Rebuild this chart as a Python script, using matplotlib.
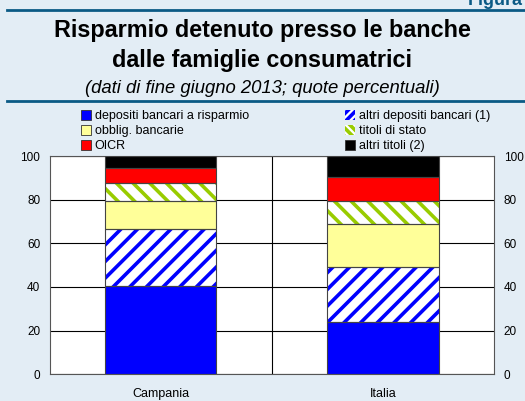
import numpy as np
import matplotlib.pyplot as plt
from matplotlib.patches import Patch

plt.rcParams['font.family'] = ['Liberation Sans', 'DejaVu Sans']
plt.rcParams['hatch.linewidth'] = 2.6

# regions on the x axis
regions = ['Campania', 'Italia']

# shares (%) of each kind of savings, bottom to top
depositi_risparmio = [40.6, 23.7]
altri_depositi = [25.8, 25.4]
obblig_bancarie = [12.9, 19.8]
titoli_stato = [8.4, 10.7]
oicr = [6.8, 11.0]
altri_titoli = [5.5, 9.4]

series = [depositi_risparmio, altri_depositi, obblig_bancarie,
          titoli_stato, oicr, altri_titoli]
labels = ['depositi bancari a risparmio', 'altri depositi bancari (1)',
          'obblig. bancarie', 'titoli di stato', 'OICR', 'altri titoli (2)']
# (fill, hatch colour, hatch)
styles = [('#0000FF', None, ''), ('white', '#0000FF', '//'),
          ('#FFFF99', None, ''), ('white', '#99CC00', '\\\\'),
          ('#FF0000', None, ''), ('black', None, '')]

bg = '#E3EDF5'
line_col = '#0B5A85'

fig = plt.figure(figsize=(5.25, 4.01), dpi=100)
fig.patch.set_facecolor(bg)

ax = fig.add_axes([0.095, 0.067, 0.846, 0.5436])
ax.set_facecolor('white')

x = np.arange(len(regions))
bottom = np.zeros(len(regions))
handles = []
for vals, lab, (fc, hc, hatch) in zip(series, labels, styles):
    vals = np.array(vals)
    if hatch:
        ax.bar(x, vals, 0.5, bottom=bottom, color='white', edgecolor=hc,
               hatch=hatch, linewidth=0, zorder=2)
        handles.append(Patch(facecolor='white', edgecolor=hc, hatch=hatch[0] * 4,
                             linewidth=0, label=lab))
    else:
        ax.bar(x, vals, 0.5, bottom=bottom, color=fc, linewidth=0, zorder=2)
        handles.append(Patch(facecolor=fc, edgecolor='#333333', linewidth=0.6, label=lab))
    ax.bar(x, vals, 0.5, bottom=bottom, fill=False, edgecolor='#444444',
           linewidth=0.8, zorder=3)
    bottom += vals

ax.set_xlim(-0.5, 1.5)
ax.set_ylim(0, 100)
ax.set_yticks([0, 20, 40, 60, 80, 100])
ax.set_xticks(x)
ax.set_xticklabels(regions)
ax.tick_params(axis='x', length=0, labelsize=9, pad=10)
ax.tick_params(axis='y', length=0, labelsize=8.5, labelright=True, right=False, pad=7)
ax.yaxis.grid(True, color='black', linewidth=0.8, zorder=0)
ax.set_axisbelow(True)
ax.axvline(0.5, color='black', linewidth=0.8, zorder=1)
for s in ax.spines.values():
    s.set_color('#555555')
    s.set_linewidth(0.8)

fig.legend(handles=handles[0::2] + handles[1::2],
           labels=labels[0::2] + labels[1::2],
           ncol=2, loc='upper left', bbox_to_anchor=(0.154, 0.725),
           frameon=False, fontsize=9, handlelength=0.8, handleheight=0.8,
           handletextpad=0.3, labelspacing=0.22, columnspacing=7.7,
           borderaxespad=0, borderpad=0)

# title block
fig.text(0.5, 0.923, 'Risparmio detenuto presso le banche', ha='center', va='center',
         fontsize=16.8, fontweight='bold')
fig.text(0.5, 0.85, 'dalle famiglie consumatrici', ha='center', va='center',
         fontsize=16.8, fontweight='bold')
fig.text(0.5, 0.78, '(dati di fine giugno 2013; quote percentuali)', ha='center',
         va='center', fontsize=13.3, style='italic')
fig.text(0.995, 0.998, 'Figura', ha='right', va='center', fontsize=13,
         fontweight='bold', color=line_col)

fig.add_artist(plt.Line2D([0.014, 1.0], [0.975, 0.975], color=line_col, linewidth=2))
fig.add_artist(plt.Line2D([0.014, 1.0], [0.747, 0.747], color=line_col, linewidth=2))

fig.savefig('out.png', dpi=100, facecolor=bg)
